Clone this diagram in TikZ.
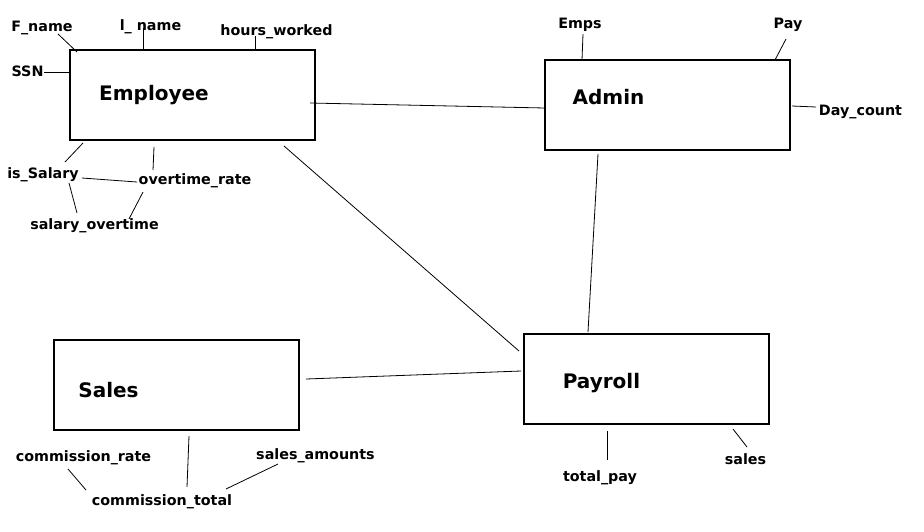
\documentclass[tikz,border=0pt]{standalone}
\usepackage{fontspec}
\setmainfont{DejaVu Sans}
\begin{document}
\begin{tikzpicture}[x=1pt,y=-1pt,
  entity/.style={draw,line width=1.5pt,fill=none},
  attr/.style={inner sep=0pt,anchor=base,font=\bfseries\fontsize{14.3}{16}\selectfont},
  ename/.style={inner sep=0pt,anchor=base,font=\bfseries\fontsize{20}{22}\selectfont},
  link/.style={line width=0.8pt}]
\useasboundingbox[fill=white] (0,0) rectangle (924,531);
% entity boxes
\draw[entity] (70,50) rectangle (315,140);
\draw[entity] (545,60) rectangle (790,150);
\draw[entity] (54,340) rectangle (299,430);
\draw[entity] (524,334) rectangle (769,424);
% entity names
\node[ename] (emp) at (154,100) {Employee};
\node[ename] (adm) at (608.5,104) {Admin};
\node[ename] (sal) at (108.5,397) {Sales};
\node[ename] (pay) at (601.5,388) {Payroll};
% attributes
\node[attr] (fname) at (42,31) {F\_name};
\node[attr] (lname) at (150.5,30) {l\_ name};
\node[attr] (hours) at (276.5,35) {hours\_worked};
\node[attr] (ssn) at (27.5,76) {SSN};
\node[attr] (issal) at (43,178) {is\_Salary};
\node[attr] (otrate) at (195,184) {overtime\_rate};
\node[attr] (salot) at (94.5,229) {salary\_overtime};
\node[attr] (emps) at (580,28) {Emps};
\node[attr] (apay) at (788,28) {Pay};
\node[attr] (dayc) at (860.5,115) {Day\_count};
\node[attr] (crate) at (83.5,461) {commission\_rate};
\node[attr] (samt) at (315.5,459) {sales\_amounts};
\node[attr] (ctot) at (162,505) {commission\_total};
\node[attr] (tpay) at (600,481) {total\_pay};
\node[attr] (psales) at (745.5,464) {sales};
% connector end points
\coordinate (c1a) at (58,34);   \coordinate (c1b) at (77,52);
\coordinate (c2a) at (143,28);  \coordinate (c2b) at (143,50);
\coordinate (c3a) at (255,36);  \coordinate (c3b) at (255,51);
\coordinate (c4a) at (44,72);   \coordinate (c4b) at (70,72);
\coordinate (c5a) at (65,162);  \coordinate (c5b) at (83,143);
\coordinate (c6a) at (154,147); \coordinate (c6b) at (153,170);
\coordinate (c7a) at (82,178);  \coordinate (c7b) at (137,182);
\coordinate (c8a) at (69,183);  \coordinate (c8b) at (77,213);
\coordinate (c9a) at (143,192); \coordinate (c9b) at (129,219);
\coordinate (e1a) at (310,103); \coordinate (e1b) at (545,108);
\coordinate (e2a) at (284,146); \coordinate (e2b) at (519,351);
\coordinate (e3a) at (598,154); \coordinate (e3b) at (588,332);
\coordinate (e4a) at (306,379); \coordinate (e4b) at (521,371);
\coordinate (a1a) at (583,34);  \coordinate (a1b) at (582,60);
\coordinate (a2a) at (786,39);  \coordinate (a2b) at (775,60);
\coordinate (a3a) at (792,106); \coordinate (a3b) at (816,107);
\coordinate (s1a) at (189,436); \coordinate (s1b) at (187,487);
\coordinate (s2a) at (68,469);  \coordinate (s2b) at (86,490);
\coordinate (s3a) at (278,464); \coordinate (s3b) at (226,489);
\coordinate (p1a) at (607,431); \coordinate (p1b) at (607,460);
\coordinate (p2a) at (733,429); \coordinate (p2b) at (747,447);
% connectors
\draw[link] (c1a) -- (c1b);
\draw[link] (c2a) -- (c2b);
\draw[link] (c3a) -- (c3b);
\draw[link] (c4a) -- (c4b);
\draw[link] (c5a) -- (c5b);
\draw[link] (c6a) -- (c6b);
\draw[link] (c7a) -- (c7b);
\draw[link] (c8a) -- (c8b);
\draw[link] (c9a) -- (c9b);
\draw[link] (e1a) -- (e1b);
\draw[link] (e2a) -- (e2b);
\draw[link] (e3a) -- (e3b);
\draw[link] (e4a) -- (e4b);
\draw[link] (a1a) -- (a1b);
\draw[link] (a2a) -- (a2b);
\draw[link] (a3a) -- (a3b);
\draw[link] (s1a) -- (s1b);
\draw[link] (s2a) -- (s2b);
\draw[link] (s3a) -- (s3b);
\draw[link] (p1a) -- (p1b);
\draw[link] (p2a) -- (p2b);
\end{tikzpicture}
\end{document}
